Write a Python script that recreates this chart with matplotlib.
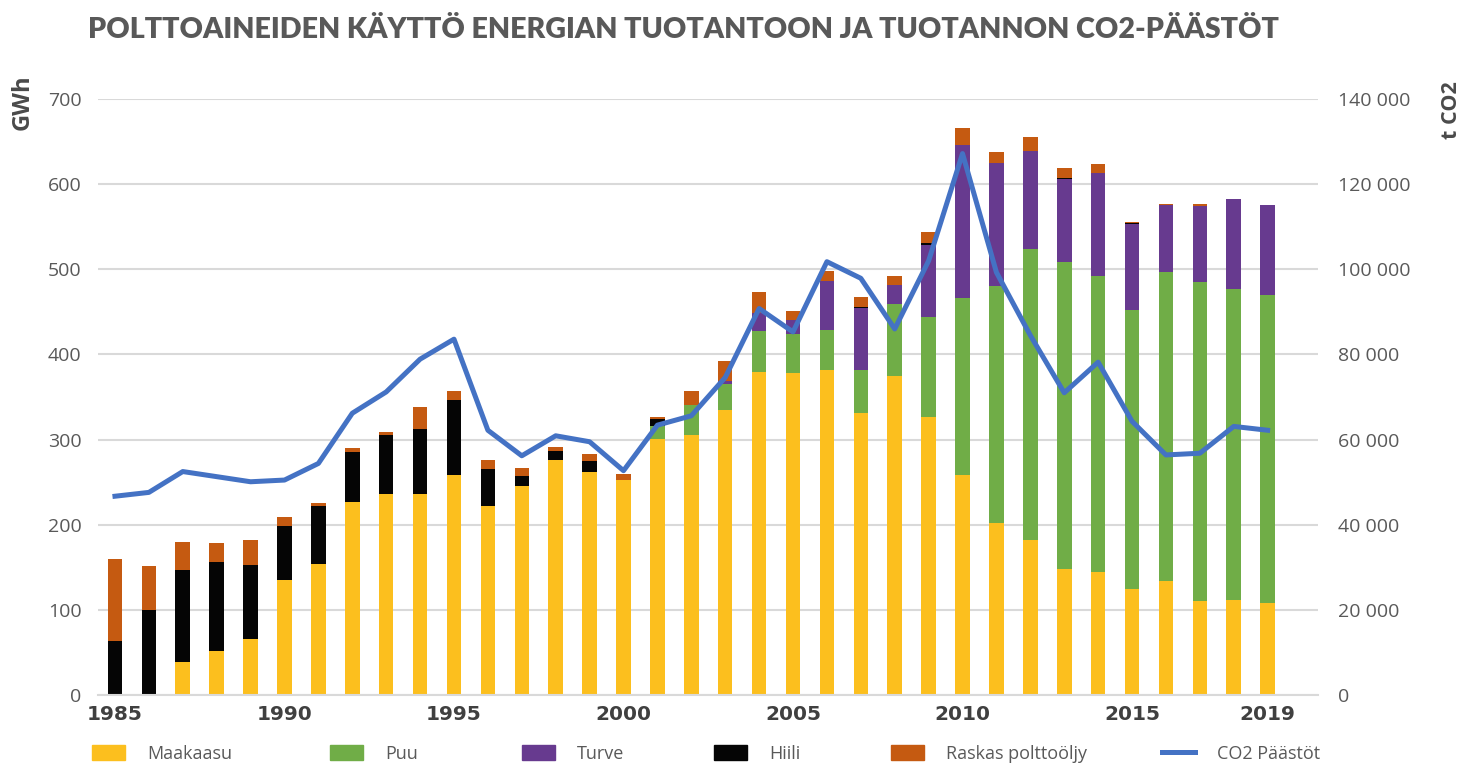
import matplotlib.pyplot as plt
from matplotlib.ticker import FuncFormatter
from matplotlib.lines import Line2D
from matplotlib.patches import Patch

years = list(range(1985, 2020))

maakaasu = [0, 0, 39, 52, 66, 135, 154, 227, 236, 236, 259, 222, 245, 276, 262, 253,
            301, 305, 335, 379, 378, 382, 331, 375, 327, 259, 202, 182, 148, 144,
            124, 134, 110, 112, 108]
puu = [0, 0, 0, 0, 0, 0, 0, 0, 0, 0, 0, 0, 0, 0, 0, 0,
       15, 36, 30, 48, 46, 47, 51, 84, 117, 207, 278, 342, 361, 348,
       328, 363, 375, 365, 362]
turve = [0, 0, 0, 0, 0, 0, 0, 0, 0, 0, 0, 0, 0, 0, 0, 0,
         0, 0, 4, 22, 17, 57, 73, 23, 85, 180, 145, 115, 97, 121,
         101, 79, 90, 106, 106]
hiili = [64, 100, 108, 104, 87, 64, 68, 58, 70, 76, 87, 43, 12, 11, 13, 0,
         8, 0, 0, 0, 0, 0, 1, 0, 1.5, 0, 0, 0, 1, 0,
         1, 0, 0, 0, 0]
raskas = [96, 52, 33, 23, 29, 10, 4, 5, 3, 26, 11, 11, 10, 4.6, 8, 7,
          3, 16, 23, 24, 9.5, 12, 12, 10, 13, 20, 13, 16, 12, 11,
          1.5, 1, 2, 0, 0]
co2 = [46700, 47600, 52500, 51300, 50100, 50500, 54400, 66200, 71200, 78900,
       83600, 62200, 56200, 60900, 59500, 52700, 63400, 65600, 74600, 90800,
       85300, 101800, 97900, 86000, 102000, 127200, 99300, 84500, 71000, 78200,
       64300, 56400, 56800, 63100, 62200]

series = [
    ("Maakaasu", maakaasu, "#FCBF1E"),
    ("Puu", puu, "#70AD47"),
    ("Turve", turve, "#673A8F"),
    ("Hiili", hiili, "#050505"),
    ("Raskas polttoöljy", raskas, "#C55A11"),
]

grey = "#595959"
tick_font = "Open Sans"

fig = plt.figure(figsize=(14.74, 7.64), dpi=100)
ax = fig.add_axes([0.0665, 0.0903, 0.828, 0.780])

bottom = [0] * len(years)
for name, vals, col in series:
    ax.bar(years, vals, bottom=bottom, width=0.43, color=col, zorder=2)
    bottom = [b + v for b, v in zip(bottom, vals)]

ax.set_xlim(1984.5, 2020.5)
ax.set_ylim(0, 700)
ax.set_yticks(range(0, 701, 100))
ax.grid(axis="y", color="#D9D9D9", linewidth=1.5, zorder=0)
for s in ["top", "right", "left"]:
    ax.spines[s].set_visible(False)
ax.spines["bottom"].set_color("#D9D9D9")
ax.spines["bottom"].set_linewidth(1.5)
ax.tick_params(axis="y", length=0, pad=12, labelsize=14, labelcolor=grey)
ax.tick_params(axis="x", length=0, pad=7)
for lbl in ax.get_yticklabels():
    lbl.set_fontfamily(tick_font)

xt = [1985, 1990, 1995, 2000, 2005, 2010, 2015, 2019]
ax.set_xticks(xt)
ax.set_xticklabels([str(y) for y in xt], fontsize=14.5, fontweight="bold",
                   color="#404040", family="DejaVu Sans")

ax2 = ax.twinx()
ax2.plot(years, co2, color="#4472C4", linewidth=3.6, zorder=3)
ax2.set_ylim(0, 140000)
ax2.set_yticks(range(0, 140001, 20000))
ax2.yaxis.set_major_formatter(FuncFormatter(lambda v, p: f"{int(v):,}".replace(",", " ")))
for s in ["top", "right", "left", "bottom"]:
    ax2.spines[s].set_visible(False)
ax2.tick_params(axis="y", length=0, pad=14, labelsize=14, labelcolor=grey)
for lbl in ax2.get_yticklabels():
    lbl.set_fontfamily(tick_font)

fig.text(0.0155, 0.902, "GWh", rotation=90, ha="center", va="top",
         fontsize=17, fontweight="bold", color="#4a4a4a", family="Open Sans")
fig.text(0.985, 0.893, "t CO2", rotation=90, ha="center", va="top",
         fontsize=15.5, fontweight="bold", color="#4a4a4a", family="Open Sans")

fig.text(0.06, 0.961, "POLTTOAINEIDEN KÄYTTÖ ENERGIAN TUOTANTOON JA TUOTANNON CO2-PÄÄSTÖT",
         ha="left", va="center", fontsize=20.6, fontweight="heavy", color=grey,
         family="Lato")

# legend entries placed one by one, like the original spacing
handles = [Patch(color=c, label=n) for n, v, c in series]
handles.append(Line2D([0], [0], color="#4472C4", linewidth=3.6, label="CO2 Päästöt"))
leg_x = [92, 330, 522, 714, 891, 1162]
for h, x in zip(handles, leg_x):
    lg = fig.legend(handles=[h], loc="center left", bbox_to_anchor=(x / 1474, 1 - 754 / 764),
                    frameon=False, handlelength=1.85, handleheight=0.9,
                    handletextpad=1.2, borderpad=0, borderaxespad=0,
                    prop={"family": "Open Sans", "size": 13})
    for t in lg.get_texts():
        t.set_color(grey)

fig.savefig("out.png", dpi=100)
